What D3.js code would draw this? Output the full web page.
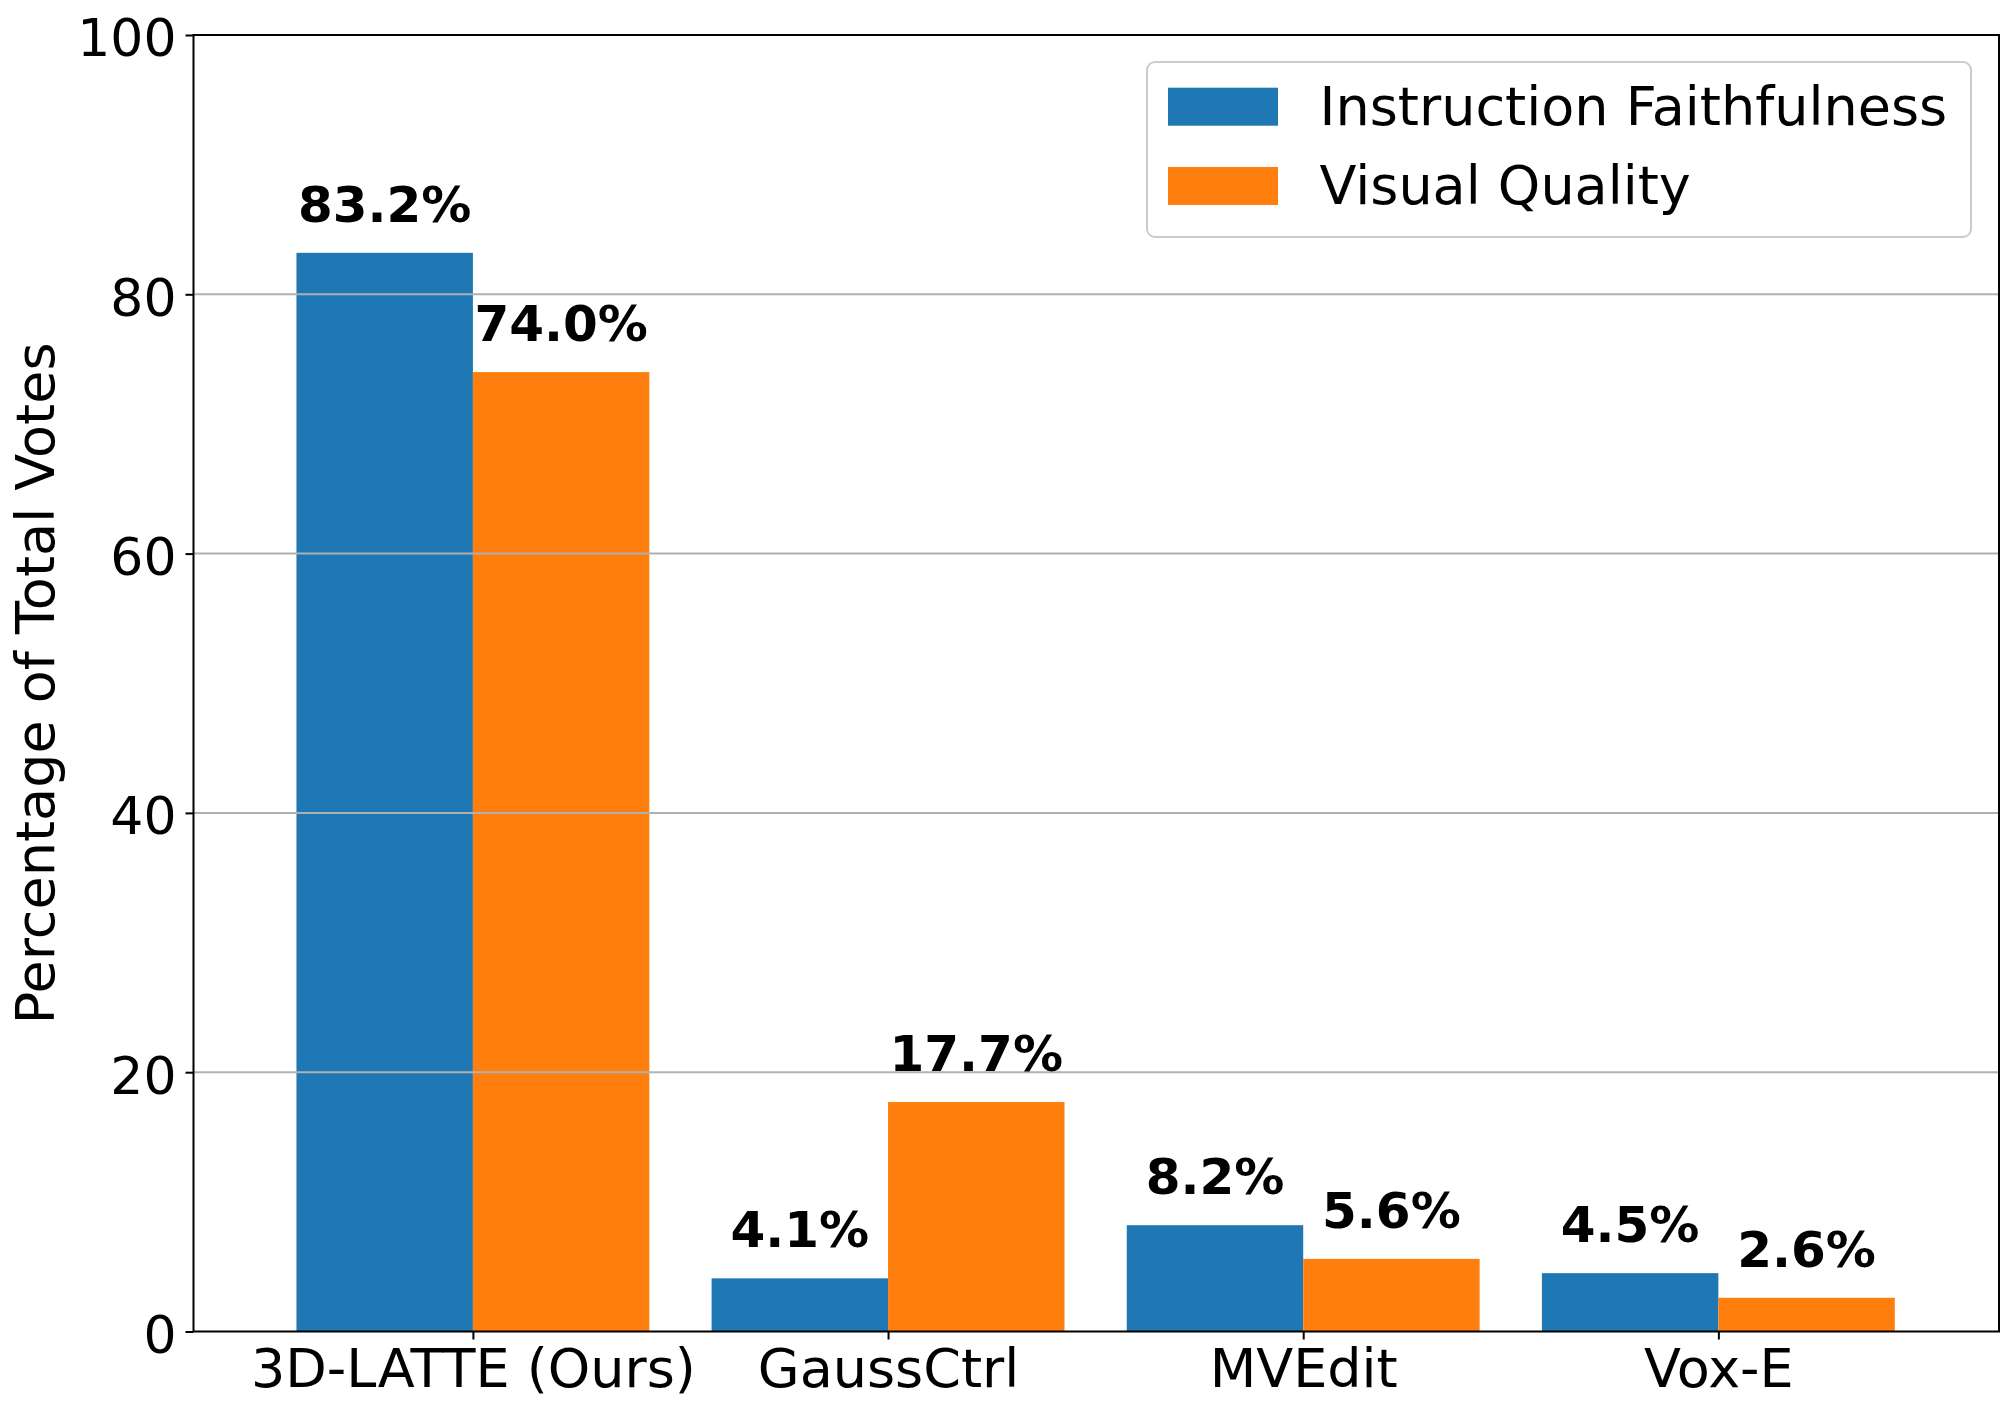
<!DOCTYPE html>
<html>
<head>
<meta charset="utf-8">
<script src="https://cdn.jsdelivr.net/npm/d3@7"></script>
<style>
  html, body { margin: 0; padding: 0; background: #fff; }
  svg { display: block; }
  text { font-family: "DejaVu Sans", sans-serif; fill: #000; }
</style>
</head>
<body>
<svg id="chart" width="2014" height="1414"></svg>
<script>
const categories = ["3D-LATTE (Ours)", "GaussCtrl", "MVEdit", "Vox-E"];
const seriesNames = ["Instruction Faithfulness", "Visual Quality"];
const faithfulness = [83.2, 4.1, 8.2, 4.5];
const visualQuality = [74.0, 17.7, 5.6, 2.6];
const yTicks = [0, 20, 40, 60, 80, 100];
const colors = ["#1f77b4", "#ff7f0e"];

const svg = d3.select("#chart");
const plot = { left: 193.5, right: 1999, top: 35, bottom: 1331.5 };
const barWidth = 0.425;
const fs = 54;

const x = d3.scaleLinear().domain([-0.673, 3.676]).range([plot.left, plot.right]);
const y = d3.scaleLinear().domain([0, 100]).range([plot.bottom, plot.top]);

const series = [faithfulness, visualQuality];

// bars
series.forEach((vals, s) => {
  svg.append("g").selectAll("rect")
    .data(vals)
    .join("rect")
    .attr("x", (d, i) => s === 0 ? x(i - barWidth) : x(i))
    .attr("width", x(barWidth) - x(0))
    .attr("y", d => y(d))
    .attr("height", d => y(0) - y(d))
    .attr("fill", colors[s]);
});

// grid (drawn above bars)
svg.append("g").selectAll("line")
  .data(yTicks.filter(t => t > 0 && t < 100))
  .join("line")
  .attr("x1", plot.left).attr("x2", plot.right)
  .attr("y1", d => y(d)).attr("y2", d => y(d))
  .attr("stroke", "#b0b0b0").attr("stroke-width", 2);

// value labels
series.forEach((vals, s) => {
  svg.append("g").selectAll("text")
    .data(vals)
    .join("text")
    .attr("x", (d, i) => s === 0 ? x(i - barWidth / 2) : x(i + barWidth / 2))
    .attr("y", d => y(d) - 31)
    .attr("text-anchor", "middle")
    .attr("font-weight", "bold")
    .attr("font-size", 50)
    .text(d => d.toFixed(1) + "%");
});

// frame
svg.append("rect")
  .attr("x", plot.left).attr("y", plot.top)
  .attr("width", plot.right - plot.left).attr("height", plot.bottom - plot.top)
  .attr("fill", "none").attr("stroke", "#000").attr("stroke-width", 2);

// y axis
const yAxis = d3.axisLeft(y).tickValues(yTicks).tickSize(8).tickPadding(9).tickFormat(d3.format("d"));
const gy = svg.append("g").attr("transform", `translate(${plot.left},0)`).call(yAxis);
gy.select(".domain").remove();
gy.selectAll(".tick line").attr("stroke", "#000").attr("stroke-width", 2);
gy.selectAll(".tick text")
  .attr("font-size", 52)
  .attr("font-family", "DejaVu Sans, sans-serif")
  .attr("fill", "#000")
  .attr("dy", "0.4em");

// x axis
const xAxis = d3.axisBottom(x).tickValues(categories.map((c, i) => i)).tickSize(8).tickPadding(8)
  .tickFormat(i => categories[i]);
const gx = svg.append("g").attr("transform", `translate(0,${plot.bottom})`).call(xAxis);
gx.select(".domain").remove();
gx.selectAll(".tick line").attr("stroke", "#000").attr("stroke-width", 2);
gx.selectAll(".tick text")
  .attr("font-size", fs)
  .attr("font-family", "DejaVu Sans, sans-serif")
  .attr("fill", "#000")
  .attr("dy", null)
  .attr("y", 55);

// y label
svg.append("text")
  .attr("transform", `translate(54,${(plot.top + plot.bottom) / 2}) rotate(-90)`)
  .attr("text-anchor", "middle")
  .attr("font-size", fs)
  .text("Percentage of Total Votes");

// legend
const lg = svg.append("g");
lg.append("rect")
  .attr("x", 1147).attr("y", 62).attr("width", 824).attr("height", 175)
  .attr("rx", 8).attr("ry", 8)
  .attr("fill", "#fff").attr("fill-opacity", 0.8)
  .attr("stroke", "#cccccc").attr("stroke-width", 2);
seriesNames.forEach((name, s) => {
  const cy = 106.7 + s * 79.3;
  lg.append("rect")
    .attr("x", 1168).attr("y", cy - 19).attr("width", 110).attr("height", 38)
    .attr("fill", colors[s]);
  lg.append("text")
    .attr("x", 1319.5).attr("y", cy + 18)
    .attr("font-size", fs)
    .text(name);
});
</script>
</body>
</html>
